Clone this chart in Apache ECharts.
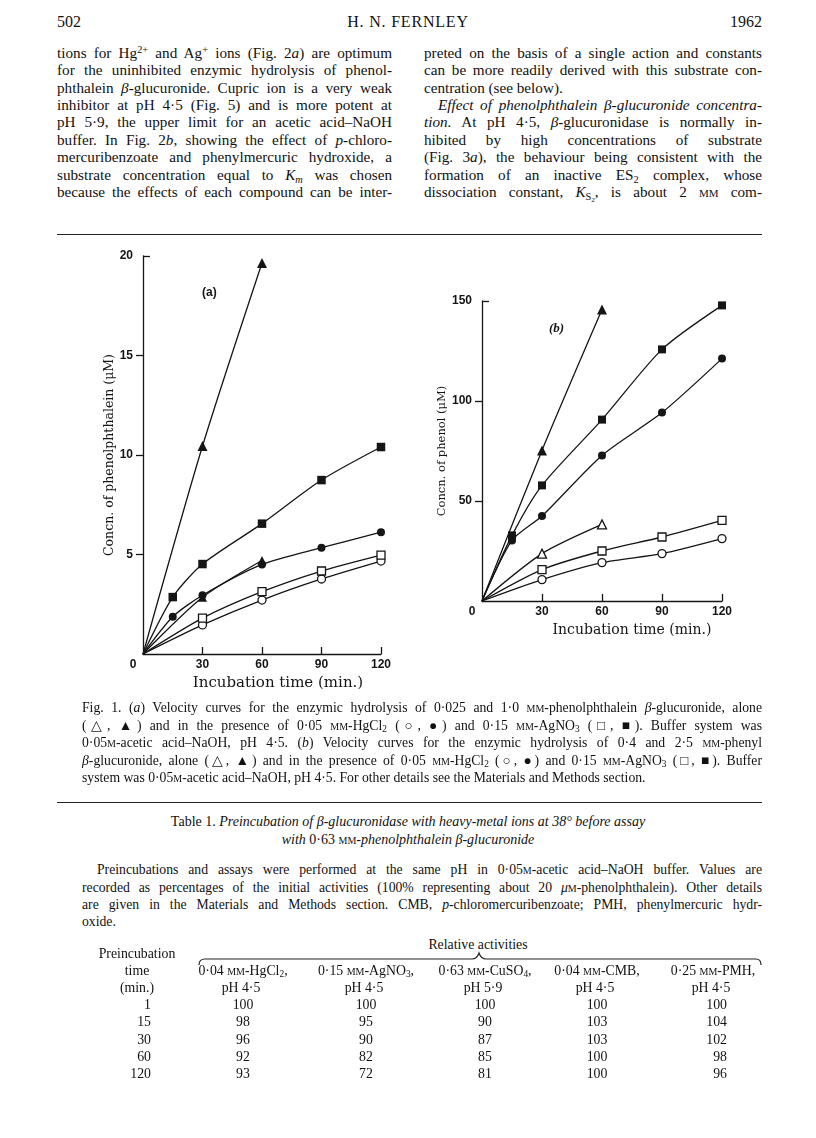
<!DOCTYPE html>
<html>
<head>
<meta charset="utf-8">
<script src="https://cdn.jsdelivr.net/npm/echarts@6/dist/echarts.min.js"></script>
<style>
  html, body { margin: 0; padding: 0; background: #fff; }
  #page { position: relative; width: 816px; height: 1138px; overflow: hidden; color: #111;
          font-family: 'Liberation Serif', serif; }
  .ln { position: absolute; line-height: 17px; font-size: 15.2px; text-align: justify; text-align-last: justify; white-space: nowrap; }
  .ll { text-align-last: left; }
  .cap { font-size: 13.7px; }
  .sc { font-variant: small-caps; }
  sup, sub { font-size: 0.68em; line-height: 0; }
  sup { vertical-align: 0.5em; }
  sub { vertical-align: -0.25em; }
  .rule { position: absolute; left: 57px; width: 705px; height: 0; border-top: 1.6px solid #222; }
  #fig { position: absolute; left: 0; top: 240px; width: 816px; height: 460px; }
  .cell { position: absolute; font-size: 13.8px; line-height: 17px; white-space: nowrap; transform: translateX(-50%); }
  .rcell { position: absolute; font-size: 13.8px; line-height: 17px; white-space: nowrap; transform: translateX(-100%); }
</style>
</head>
<body>
<div id="page">
  <div class="ln ll" style="left:57px;top:13px;font-size:16px;">502</div>
  <div class="ln ll" style="left:300px;width:216px;top:13px;font-size:16px;text-align:center;text-align-last:center;letter-spacing:0.8px;">H. N. FERNLEY</div>
  <div class="ln ll" style="left:662px;width:100px;top:13px;font-size:16px;text-align:right;text-align-last:right;">1962</div>

  <div class="ln" style="left:57px;width:335px;top:44px;">tions for Hg<sup>2+</sup> and Ag<sup>+</sup> ions (Fig. 2<i>a</i>) are optimum</div>
  <div class="ln" style="left:57px;width:335px;top:61px;">for the uninhibited enzymic hydrolysis of phenol-</div>
  <div class="ln" style="left:57px;width:335px;top:79px;">phthalein <i>β</i>-glucuronide. Cupric ion is a very weak</div>
  <div class="ln" style="left:57px;width:335px;top:96px;">inhibitor at pH 4·5 (Fig. 5) and is more potent at</div>
  <div class="ln" style="left:57px;width:335px;top:113px;">pH 5·9, the upper limit for an acetic acid–NaOH</div>
  <div class="ln" style="left:57px;width:335px;top:131px;">buffer. In Fig. 2<i>b</i>, showing the effect of <i>p</i>-chloro-</div>
  <div class="ln" style="left:57px;width:335px;top:148px;">mercuribenzoate and phenylmercuric hydroxide, a</div>
  <div class="ln" style="left:57px;width:335px;top:166px;">substrate concentration equal to <i>K<sub>m</sub></i> was chosen</div>
  <div class="ln" style="left:57px;width:335px;top:183px;">because the effects of each compound can be inter-</div>

  <div class="ln" style="left:424px;width:338px;top:44px;">preted on the basis of a single action and constants</div>
  <div class="ln" style="left:424px;width:338px;top:61px;">can be more readily derived with this substrate con-</div>
  <div class="ln ll" style="left:424px;width:338px;top:79px;">centration (see below).</div>
  <div class="ln" style="left:438px;width:324px;top:96px;"><i>Effect of phenolphthalein β-glucuronide concentra-</i></div>
  <div class="ln" style="left:424px;width:338px;top:113px;"><i>tion.</i> At pH 4·5, <i>β</i>-glucuronidase is normally in-</div>
  <div class="ln" style="left:424px;width:338px;top:131px;">hibited by high concentrations of substrate</div>
  <div class="ln" style="left:424px;width:338px;top:148px;">(Fig. 3<i>a</i>), the behaviour being consistent with the</div>
  <div class="ln" style="left:424px;width:338px;top:166px;">formation of an inactive ES<sub>2</sub> complex, whose</div>
  <div class="ln" style="left:424px;width:338px;top:183px;">dissociation constant, <i>K</i><sub>S<sub>2</sub></sub>, is about 2 <span class="sc">mm</span> com-</div>

  <div class="rule" style="top:234px;"></div>

  <div id="fig"></div>

  <div class="ln cap" style="left:82px;width:680px;top:699px;">Fig. 1. (<i>a</i>) Velocity curves for the enzymic hydrolysis of 0·025 and 1·0 <span class="sc">mm</span>-phenolphthalein <i>β</i>-glucuronide, alone</div>
  <div class="ln cap" style="left:82px;width:680px;top:717px;">(△, ▲) and in the presence of 0·05 <span class="sc">mm</span>-HgCl<sub>2</sub> (○, ●) and 0·15 <span class="sc">mm</span>-AgNO<sub>3</sub> (□, ■). Buffer system was</div>
  <div class="ln cap" style="left:82px;width:680px;top:734px;">0·05<span class="sc">m</span>-acetic acid–NaOH, pH 4·5. (<i>b</i>) Velocity curves for the enzymic hydrolysis of 0·4 and 2·5 <span class="sc">mm</span>-phenyl</div>
  <div class="ln cap" style="left:82px;width:680px;top:752px;"><i>β</i>-glucuronide, alone (△, ▲) and in the presence of 0·05 <span class="sc">mm</span>-HgCl<sub>2</sub> (○, ●) and 0·15 <span class="sc">mm</span>-AgNO<sub>3</sub> (□, ■). Buffer</div>
  <div class="ln cap ll" style="left:82px;width:680px;top:769px;">system was 0·05<span class="sc">m</span>-acetic acid–NaOH, pH 4·5. For other details see the Materials and Methods section.</div>

  <div class="rule" style="top:802px;"></div>

  <div class="ln ll" style="left:0;width:816px;top:813px;font-size:14px;text-align:center;text-align-last:center;">Table 1. <i>Preincubation of β-glucuronidase with heavy-metal ions at 38° before assay</i></div>
  <div class="ln ll" style="left:0;width:816px;top:831px;font-size:14px;text-align:center;text-align-last:center;"><i>with</i> 0·63 <span class="sc">mm</span>-<i>phenolphthalein β-glucuronide</i></div>

  <div class="ln cap" style="left:97px;width:665px;top:861px;">Preincubations and assays were performed at the same pH in 0·05<span class="sc">m</span>-acetic acid–NaOH buffer. Values are</div>
  <div class="ln cap" style="left:82px;width:680px;top:879px;">recorded as percentages of the initial activities (100% representing about 20 <i>μ</i><span class="sc">m</span>-phenolphthalein). Other details</div>
  <div class="ln cap" style="left:82px;width:680px;top:896px;">are given in the Materials and Methods section. CMB, <i>p</i>-chloromercuribenzoate; PMH, phenylmercuric hydr-</div>
  <div class="ln cap ll" style="left:82px;width:680px;top:913px;">oxide.</div>

  <div class="cell" style="left:478px;top:936px;">Relative activities</div>
  <svg style="position:absolute;left:0;top:0;" width="816" height="1138">
    <path d="M199,965 Q199,959 205,959 L472,959 Q477,959 479,953 Q481,959 486,959 L756,959 Q761,959 761,965"
          fill="none" stroke="#222" stroke-width="1.2"/>
  </svg>
  <div id="table"></div>
</div>

<script>
// incubation times (min.)
var times = [0, 15, 30, 60, 90, 120]
var xTicks = [0, 30, 60, 90, 120]

// Fig. 1a, concn. of phenolphthalein (uM)
var aTriFilled = [0, null, 10.45, 19.65, null, null]
var aTriOpen = [0, null, 2.85, 4.7, null, null]
var aSqFilled = [0, 2.86, 4.52, 6.55, 8.74, 10.4]
var aCircFilled = [0, 1.87, 2.95, 4.5, 5.34, 6.12]
var aSqOpen = [0, null, 1.8, 3.13, 4.17, 4.97]
var aCircOpen = [0, null, 1.46, 2.71, 3.77, 4.67]

// Fig. 1b, concn. of phenol (uM)
var bTriFilled = [0, null, 75.3, 145.7, null, null]
var bTriOpen = [0, null, 23.7, 38.3, null, null]
var bSqFilled = [0, 32.8, 57.8, 90.7, 125.8, 147.8]
var bCircFilled = [0, 30.3, 42.5, 72.8, 94.2, 121.2]
var bSqOpen = [0, null, 15.7, 25, 32, 40.3]
var bCircOpen = [0, null, 10.7, 19.2, 23.7, 31.2]

// Table 1
var preTimes = [1, 15, 30, 60, 120]
var colHeads = [
  ['0·04 <span class="sc">mm</span>-HgCl<sub>2</sub>,', 'pH 4·5'],
  ['0·15 <span class="sc">mm</span>-AgNO<sub>3</sub>,', 'pH 4·5'],
  ['0·63 <span class="sc">mm</span>-CuSO<sub>4</sub>,', 'pH 5·9'],
  ['0·04 <span class="sc">mm</span>-CMB,', 'pH 4·5'],
  ['0·25 <span class="sc">mm</span>-PMH,', 'pH 4·5']
]
var hgVals = [100, 98, 96, 92, 93]
var agVals = [100, 95, 90, 82, 72]
var cuVals = [100, 90, 87, 85, 81]
var cmbVals = [100, 103, 103, 100, 100]
var pmhVals = [100, 104, 102, 98, 96]

var ink = '#151515'

function pts(vals) {
  var out = []
  for (var i = 0; i < times.length; i++) {
    if (vals[i] == null) continue
    if (times[i] === 0) out.push({ value: [0, vals[i]], symbol: 'none' })
    else out.push([times[i], vals[i]])
  }
  return out
}

function line(data, grid, symbol, size, filled) {
  return {
    type: 'line',
    xAxisIndex: grid,
    yAxisIndex: grid * 2,
    data: pts(data),
    smooth: 0.25,
    symbol: symbol,
    symbolSize: size,
    showAllSymbol: true,
    animation: false,
    lineStyle: { color: ink, width: 1.3 },
    itemStyle: { color: filled ? ink : '#fff', borderColor: ink, borderWidth: filled ? 0 : 1.3 },
    z: filled ? 3 : 2
  }
}

function xAxis(grid, nameSize, nameShift) {
  return {
    type: 'value', gridIndex: grid, min: 0, max: 120, interval: 30,
    name: 'Incubation time (min.)', nameLocation: 'middle', nameGap: 21,
    nameTextStyle: { fontFamily: 'DejaVu Serif', fontSize: nameSize, color: ink, padding: [0, 0, 0, nameShift] },
    axisLine: { lineStyle: { color: ink, width: 1.3 } },
    axisTick: { inside: true, length: 7, lineStyle: { color: ink, width: 1.3 }, customValues: [30, 60, 90, 120] },
    axisLabel: {
      color: ink, fontFamily: 'Liberation Sans', fontWeight: 'bold', fontSize: 12, margin: 5,
      customValues: xTicks,
      formatter: function (v) { return v === 0 ? '{z|0}' : '' + v },
      rich: { z: { fontFamily: 'Liberation Sans', fontWeight: 'bold', fontSize: 12, color: ink, padding: [0, 20, 0, 0] } }
    },
    splitLine: { show: false }
  }
}

function yAxes(grid, max, step, name, nameSize, nameGap) {
  var ticks = []
  for (var v = step; v < max; v += step) ticks.push(v)
  return [{
    type: 'value', gridIndex: grid, min: 0, max: max, interval: step,
    name: name, nameLocation: 'middle', nameGap: nameGap,
    nameTextStyle: { fontFamily: 'DejaVu Serif', fontSize: nameSize, color: ink },
    axisLine: { show: true, lineStyle: { color: ink, width: 1.3 } },
    axisTick: { show: true, length: 7, lineStyle: { color: ink, width: 1.3 }, customValues: ticks },
    axisLabel: { color: ink, fontFamily: 'Liberation Sans', fontWeight: 'bold', fontSize: 12, margin: 10, showMinLabel: false },
    splitLine: { show: false }
  }, {
    type: 'value', gridIndex: grid, min: 0, max: max, interval: step, position: 'left',
    axisLine: { show: false },
    axisTick: { show: true, inside: true, length: 7, lineStyle: { color: ink, width: 1.3 }, customValues: [max] },
    axisLabel: { show: false },
    splitLine: { show: false }
  }]
}

var chart = echarts.init(document.getElementById('fig'), null, { renderer: 'canvas' })
chart.setOption({
  backgroundColor: '#fff',
  animation: false,
  grid: [
    { left: 143, top: 16, width: 238, height: 398 },
    { left: 482, top: 61, width: 240, height: 300 }
  ],
  xAxis: [xAxis(0, 15, 32), xAxis(1, 14, 60)],
  yAxis: yAxes(0, 20, 5, 'Concn. of phenolphthalein (μM)', 12.5, 24).concat(
    yAxes(1, 150, 50, 'Concn. of phenol (μM)', 11.5, 28)),
  graphic: [
    { type: 'text', left: 202, top: 47, style: { text: '(a)', font: 'bold 12px "Liberation Sans"', fill: ink } },
    { type: 'text', left: 549, top: 82, style: { text: '(b)', font: 'italic bold 13px "Liberation Serif"', fill: ink } }
  ],
  series: [
    line(aCircOpen, 0, 'circle', 8, false),
    line(aSqOpen, 0, 'rect', 8, false),
    line(aCircFilled, 0, 'circle', 8, true),
    line(aTriOpen, 0, 'triangle', 9, true),
    line(aSqFilled, 0, 'rect', 8.5, true),
    line(aTriFilled, 0, 'triangle', 10, true),
    line(bCircOpen, 1, 'circle', 8, false),
    line(bSqOpen, 1, 'rect', 8, false),
    line(bTriOpen, 1, 'triangle', 9, false),
    line(bCircFilled, 1, 'circle', 8, true),
    line(bSqFilled, 1, 'rect', 8, true),
    line(bTriFilled, 1, 'triangle', 10, true)
  ]
})

// table body
var cols = [hgVals, agVals, cuVals, cmbVals, pmhVals]
var colX = [243, 366, 485, 597, 713]
var rowY = [996, 1013, 1031, 1048, 1065]
var html = ''
html += '<div class="cell" style="left:137px;top:945px;">Preincubation</div>'
html += '<div class="cell" style="left:137px;top:962px;">time</div>'
html += '<div class="cell" style="left:137px;top:979px;">(min.)</div>'
for (var c = 0; c < colHeads.length; c++) {
  html += '<div class="cell" style="left:' + colX[c] + 'px;top:962px;">' + colHeads[c][0] + '</div>'
  html += '<div class="cell" style="left:' + (colX[c] - 2) + 'px;top:979px;">' + colHeads[c][1] + '</div>'
}
for (var r = 0; r < preTimes.length; r++) {
  html += '<div class="rcell" style="left:151px;top:' + rowY[r] + 'px;">' + preTimes[r] + '</div>'
  for (var c2 = 0; c2 < cols.length; c2++) {
    if (c2 === 4) html += '<div class="rcell" style="left:727px;top:' + rowY[r] + 'px;">' + cols[c2][r] + '</div>'
    else html += '<div class="cell" style="left:' + colX[c2] + 'px;top:' + rowY[r] + 'px;">' + cols[c2][r] + '</div>'
  }
}
document.getElementById('table').innerHTML = html
</script>
</body>
</html>
